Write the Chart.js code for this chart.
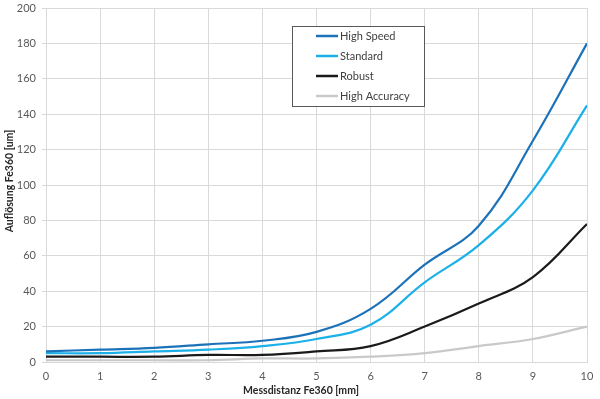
<!DOCTYPE html>
<html>
<head>
<meta charset="utf-8">
<script src="https://cdn.jsdelivr.net/npm/chart.js@4"></script>
<style>
  html, body { margin: 0; padding: 0; background: #fff; }
  #wrap { width: 600px; height: 399px; }
</style>
</head>
<body>
<div id="wrap"><canvas id="chart" width="600" height="399"></canvas></div>
<script>
// ==============================
// DATA
// ==============================
const distances     = [0, 1, 2, 3, 4, 5, 6, 7, 8, 9, 10];
const highSpeed     = [6, 7, 8, 10, 12, 17, 30, 55, 77, 125, 180];
const standard      = [5, 5, 6, 7, 9, 13, 21, 45, 66, 97, 145];
const robust        = [3, 3, 3, 4, 4, 6, 9, 20, 33, 48, 78];
const highAccuracy  = [1, 1, 1, 1, 2, 2, 3, 5, 9, 13, 20];

const seriesNames   = ["High Speed", "Standard", "Robust", "High Accuracy"];
const seriesColors  = ["#1c72b9", "#1cb0e8", "#1a1a1a", "#c9c9c9"];

const xTitle = "Messdistanz Fe360 [mm]";
const yTitle = "Auflösung Fe360 [um]";

const FONT = "Lato, 'Open Sans', 'Liberation Sans', sans-serif";

function toPoints(values){
    return values.map((v, i) => ({ x: distances[i], y: v }));
}

// ==============================
// LEGEND BOX (inside plot)
// ==============================
const boxLegend = {
    id: "boxLegend",
    afterDraw(chart){
        const c = chart.ctx;
        const x = 292, y = 26, w = 132, h = 80;
        c.save();
        c.fillStyle = "#fff";
        c.fillRect(x, y, w, h);
        c.strokeStyle = "#595959";
        c.lineWidth = 1;
        c.strokeRect(x + 0.5, y + 0.5, w, h);
        c.font = "11px " + FONT;
        c.textBaseline = "middle";
        chart.data.datasets.forEach((ds, i) => {
            const ry = y + 10 + i * 20;
            c.strokeStyle = ds.borderColor;
            c.lineWidth = 2.5;
            c.beginPath();
            c.moveTo(316, ry);
            c.lineTo(338, ry);
            c.stroke();
            c.fillStyle = "#404040";
            c.fillText(ds.label, 340, ry);
        });
        c.restore();
    }
};

// axis titles: centred on the canvas like the original, not on the plot
const axisTitles = {
    id: "axisTitles",
    afterDraw(chart){
        const c = chart.ctx;
        c.save();
        c.fillStyle = "#262626";
        c.font = "bold 10.5px " + FONT;
        c.textAlign = "center";
        c.textBaseline = "middle";
        c.fillText(xTitle, chart.width / 2 + 1, 391);
        c.translate(10, 181);
        c.rotate(-Math.PI / 2);
        c.fillText(yTitle, 0, 0);
        c.restore();
    }
};

// ==============================
// CHART
// ==============================
// high speed drawn on top, high accuracy at the bottom
const datasets = [highSpeed, standard, robust, highAccuracy].map((vals, i) => ({
    label: seriesNames[i],
    data: toPoints(vals),
    borderColor: seriesColors[i],
    backgroundColor: seriesColors[i],
    borderWidth: 2.2,
    pointRadius: 0,
    tension: 0.4,
    fill: false,
    order: i
}));

new Chart(document.getElementById("chart"), {
    type: "line",
    data: { datasets },
    plugins: [boxLegend, axisTitles],
    options: {
        responsive: false,
        animation: false,
        layout: { padding: { top: 8, right: 13, left: 0, bottom: 0 } },
        plugins: {
            legend: { display: false },
            tooltip: { enabled: false }
        },
        scales: {
            x: {
                type: "linear",
                min: 0, max: 10,
                ticks: { stepSize: 1, color: "#595959", font: { family: FONT, size: 11 }, padding: 8, maxRotation: 0 },
                grid: { color: "#d9d9d9", drawTicks: false },
                border: { color: "#d9d9d9" },
                afterFit(scale){
                    scale.height = 37;
                    scale.paddingLeft = 0;
                    scale.paddingRight = 0;
                }
            },
            y: {
                min: 0, max: 200,
                ticks: { stepSize: 20, color: "#595959", font: { family: FONT, size: 11 }, padding: 6 },
                grid: { color: "#d9d9d9", tickLength: 4 },
                border: { color: "#d9d9d9" },
                afterFit(scale){
                    scale.width = 46;
                    scale.paddingTop = 0;
                    scale.paddingBottom = 0;
                }
            }
        }
    }
});
</script>
</body>
</html>
